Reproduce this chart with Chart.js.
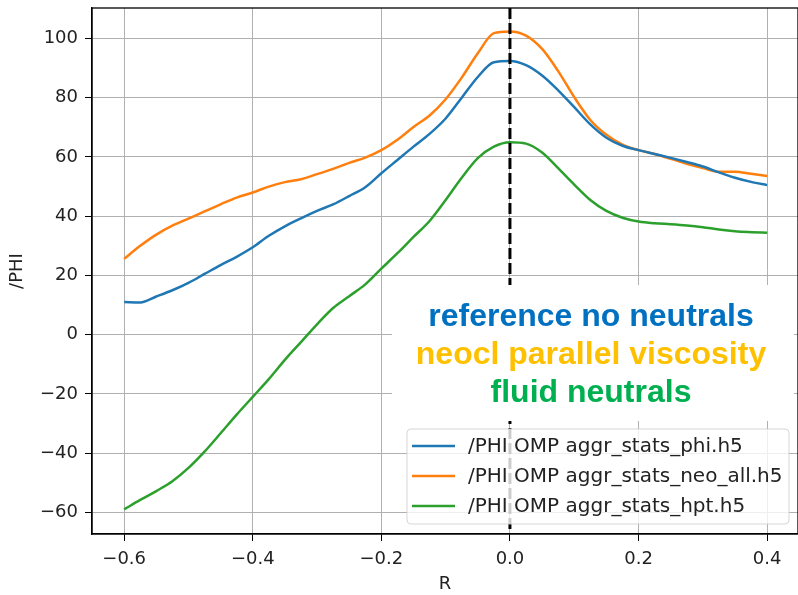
<!DOCTYPE html>
<html>
<head>
<meta charset="utf-8">
<script src="https://cdn.jsdelivr.net/npm/chart.js@4.4.1/dist/chart.umd.min.js"></script>
<style>
  html, body { margin: 0; padding: 0; background: #fff; }
  canvas { display: block; }
</style>
</head>
<body>
<canvas id="phiChart" width="798" height="595"></canvas>
<script>
// radial coordinate R (shared by all three runs)
const rValues = [
    -0.6, -0.575, -0.55, -0.525, -0.5, -0.475, -0.45, -0.425, -0.4, -0.375,
    -0.35, -0.325, -0.3, -0.275, -0.25, -0.225, -0.2, -0.175, -0.15, -0.125,
    -0.1, -0.075, -0.05, -0.025, 0, 0.025, 0.05, 0.075, 0.1, 0.125,
    0.15, 0.175, 0.2, 0.225, 0.25, 0.275, 0.3, 0.325, 0.35, 0.375, 0.4
];

// /PHI OMP aggr_stats_phi.h5
const phiRef = [
    11, 10.9, 12.9, 15, 17.5, 20.5, 23.5, 26.3, 29.5, 33.4,
    36.6, 39.3, 41.8, 44, 46.8, 49.8, 54.5, 59, 63.5, 67.8,
    73, 80, 87, 92, 92.4, 91, 87.5, 82.5, 76.8, 71,
    66.5, 63.8, 62.3, 61, 59.7, 58.3, 56.8, 54.8, 53, 51.6, 50.5
];

// /PHI OMP aggr_stats_neo_all.h5
const phiNeo = [
    25.6, 30, 33.8, 36.8, 39.2, 41.6, 44, 46.3, 48, 50,
    51.5, 52.5, 54.2, 56, 58, 59.8, 62.3, 65.8, 70.1, 74,
    79.5, 86.8, 95, 101.8, 102.4, 101, 96.5, 89, 80.2, 72.5,
    67.5, 64.2, 62.3, 61, 59.4, 57.7, 56.3, 55, 55, 54.3, 53.6
];

// /PHI OMP aggr_stats_hpt.h5
const phiHpt = [
    -59, -55.8, -52.8, -49.5, -45, -39.5, -33.3, -27, -21, -15,
    -8.5, -2.5, 3.5, 9, 13, 17, 22.3, 27.5, 33, 38.4,
    45.5, 53, 59.6, 63.5, 65, 64.5, 61.5, 56.2, 50.7, 45.5,
    41.8, 39.5, 38.2, 37.6, 37.3, 36.9, 36.3, 35.5, 34.9, 34.6, 34.4
];

const seriesLabels = [
    '/PHI OMP aggr_stats_phi.h5',
    '/PHI OMP aggr_stats_neo_all.h5',
    '/PHI OMP aggr_stats_hpt.h5'
];
const seriesColors = ['#1f77b4', '#ff7f0e', '#2ca02c'];

const xTicks = [-0.6, -0.4, -0.2, 0.0, 0.2, 0.4];
const yTicks = [-60, -40, -20, 0, 20, 40, 60, 80, 100];
const separatrixR = 0;

const noteLines = ['reference no neutrals', 'neocl parallel viscosity', 'fluid neutrals'];
const noteColors = ['#0070c0', '#ffc000', '#00b050'];

const tickFont = { family: 'DejaVu Sans', size: 18 };

function toPoints(ys) {
    return rValues.map((r, i) => ({ x: r, y: ys[i] }));
}

function fmt(v, digits) {
    let s = v.toFixed(digits);
    if (s === '-0.0' || s === '-0') s = s.slice(1);
    return s.replace('-', '\u2212');
}

// frame, dashed separatrix, legend box and the pasted text box
const overlays = {
    id: 'overlays',
    afterDatasetsDraw(chart) {
        const ctx = chart.ctx;
        const area = chart.chartArea;
        const xs = chart.scales.x;
        ctx.save();

        // vertical dashed line at R = 0
        const px = xs.getPixelForValue(separatrixR);
        ctx.strokeStyle = '#000';
        ctx.lineWidth = 3;
        ctx.setLineDash([11, 4]);
        ctx.beginPath();
        ctx.moveTo(px, area.top);
        ctx.lineTo(px, area.bottom);
        ctx.stroke();
        ctx.setLineDash([]);

        // axes frame
        ctx.lineWidth = 1.3;
        ctx.strokeStyle = '#000';
        ctx.strokeRect(area.left, area.top, area.right - area.left, area.bottom - area.top);

        // legend
        ctx.fillStyle = 'rgba(255,255,255,0.8)';
        ctx.strokeStyle = 'rgba(204,204,204,0.8)';
        ctx.lineWidth = 1;
        ctx.beginPath();
        ctx.roundRect(407, 429, 382, 95, 4);
        ctx.fill();
        ctx.stroke();
        ctx.font = '20px "DejaVu Sans"';
        ctx.textBaseline = 'middle';
        ctx.textAlign = 'left';
        chart.data.datasets.forEach((ds, i) => {
            const y = 446 + i * 30;
            ctx.strokeStyle = ds.borderColor;
            ctx.lineWidth = 2.5;
            ctx.beginPath();
            ctx.moveTo(412, y);
            ctx.lineTo(455, y);
            ctx.stroke();
            ctx.fillStyle = '#222';
            ctx.fillText(ds.label, 468, y + 1);
        });

        // text box on top
        ctx.fillStyle = '#fff';
        ctx.fillRect(392, 285, 402, 136);
        ctx.font = 'bold 32px "Liberation Sans", Arial, sans-serif';
        ctx.textAlign = 'center';
        ctx.textBaseline = 'alphabetic';
        noteLines.forEach((t, i) => {
            ctx.fillStyle = noteColors[i];
            ctx.fillText(t, 591, 326 + i * 38);
        });
        ctx.restore();
    }
};

const phiChart = new Chart(document.getElementById('phiChart'), {
    type: 'line',
    data: {
        datasets: [phiRef, phiNeo, phiHpt].map((ys, i) => ({
            label: seriesLabels[i],
            data: toPoints(ys),
            borderColor: seriesColors[i],
            backgroundColor: seriesColors[i],
            borderWidth: 2.5,
            pointRadius: 0,
            fill: false,
            cubicInterpolationMode: 'monotone'
        }))
    },
    options: {
        responsive: false,
        animation: false,
        events: [],
        layout: { padding: { top: 8, right: 0, bottom: 0, left: 0 } },
        plugins: {
            legend: { display: false },
            tooltip: { enabled: false }
        },
        scales: {
            x: {
                type: 'linear',
                min: -0.65,
                max: 0.448,
                afterBuildTicks: s => { s.ticks = xTicks.map(v => ({ value: v })); },
                afterFit: s => { s.height = 61; s.paddingLeft = 0; s.paddingRight = 0; },
                grid: { color: '#b0b0b0', lineWidth: 1, tickLength: 7, tickColor: '#000' },
                border: { color: '#000', width: 1.3 },
                ticks: {
                    font: tickFont, color: '#222', padding: 8, maxRotation: 0,
                    callback: v => fmt(v, 1)
                },
                title: {
                    display: true, text: 'R', font: tickFont, color: '#222',
                    padding: { top: 0, bottom: 0 }
                }
            },
            y: {
                type: 'linear',
                min: -67.3,
                max: 110.3,
                afterBuildTicks: s => { s.ticks = yTicks.map(v => ({ value: v })); },
                afterFit: s => { s.width = 92; s.paddingTop = 0; s.paddingBottom = 0; },
                grid: { color: '#b0b0b0', lineWidth: 1, tickLength: 7, tickColor: '#000' },
                border: { color: '#000', width: 1.3 },
                ticks: {
                    font: tickFont, color: '#222', padding: 7,
                    callback: v => fmt(v, 0)
                },
                title: {
                    display: true, text: '/PHI', font: tickFont, color: '#222',
                    padding: { top: 7, bottom: 0 }
                }
            }
        }
    },
    plugins: [overlays]
});
</script>
</body>
</html>
